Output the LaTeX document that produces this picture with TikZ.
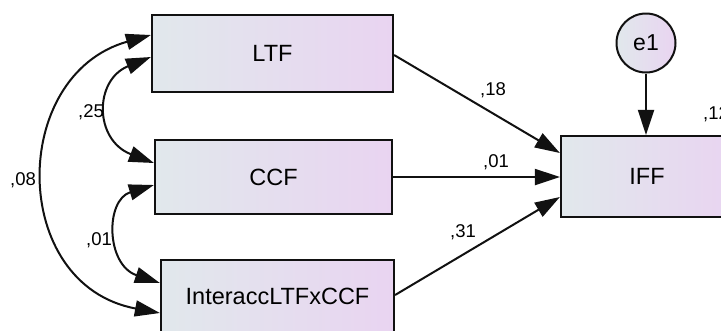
\documentclass[tikz,border=0pt]{standalone}
\usepackage{fontspec}
\setmainfont{Liberation Sans}
\usetikzlibrary{arrows.meta}
\definecolor{boxleft}{HTML}{E1E8EC}
\definecolor{boxright}{HTML}{E9D4F1}
\definecolor{ink}{HTML}{111111}
\tikzset{
  var/.style={draw=ink, line width=2.2pt, left color=boxleft, right color=boxright,
    inner sep=0pt, font=\fontsize{23.5}{27}\selectfont},
  err/.style={circle, draw=ink, line width=2pt, left color=boxleft, right color=boxright,
    inner sep=0pt, minimum size=59pt, font=\fontsize{23}{27}\selectfont},
  tip/.tip={Triangle[length=25pt,width=16pt]},
  regr/.style={draw=ink, line width=2pt, -tip},
  covar/.style={draw=ink, line width=2pt, tip-tip},
  coef/.style={inner sep=0pt, font=\fontsize{18.5}{21}\selectfont}
}
\begin{document}
\begin{tikzpicture}[x=1pt, y=-1pt]
  \useasboundingbox (0,0) rectangle (721,330);

  % observed variables
  \node[var, minimum width=241pt, minimum height=77pt] (ltf)   at (272.5,53.5) {LTF};
  \node[var, minimum width=237pt, minimum height=74pt] (ccf)   at (273.5,177)  {CCF};
  \node[var, minimum width=233pt, minimum height=73pt] (inter) at (277.5,296.5) {InteraccLTFxCCF};
  \node[var, minimum width=172pt, minimum height=81pt] (iff)   at (647,176.5)  {IFF};

  % error term
  \node[err] (e1) at (646,43) {e1};

  % regression paths
  \draw[regr] ([yshift=-1.5pt]ltf.east) -- ([yshift=23.5pt]iff.west);
  \draw[regr] (ccf.east) -- ([yshift=-0.5pt]iff.west);
  \draw[regr] ([yshift=1.5pt]inter.east) -- ([yshift=-20.5pt]iff.west);
  \draw[regr] (e1.south) -- (e1.south |- iff.north);

  % covariances
  \draw[covar] ([yshift=-3.5pt]ltf.west) .. controls +(-57,23) and +(-60,-23) .. ([yshift=14pt]ccf.west);
  \draw[covar] ([yshift=-8pt]ccf.west) .. controls +(-49,15) and +(-54,-18) .. ([yshift=13.5pt]inter.west);
  \draw[covar] ([yshift=18.5pt]ltf.west) .. controls +(-142,40) and +(-151,-28) .. ([yshift=-16.5pt]inter.west);

  % coefficients
  \node[coef] (c25) at (91,112)  {,25};
  \node[coef] (c01a) at (99,240) {,01};
  \node[coef] (c08) at (23,180)  {,08};
  \node[coef] (c18) at (493,90)  {,18};
  \node[coef] (c01b) at (496,162) {,01};
  \node[coef] (c31) at (463,232) {,31};
  \node[coef, anchor=west] (c12) at (703,114) {,12};
\end{tikzpicture}
\end{document}
